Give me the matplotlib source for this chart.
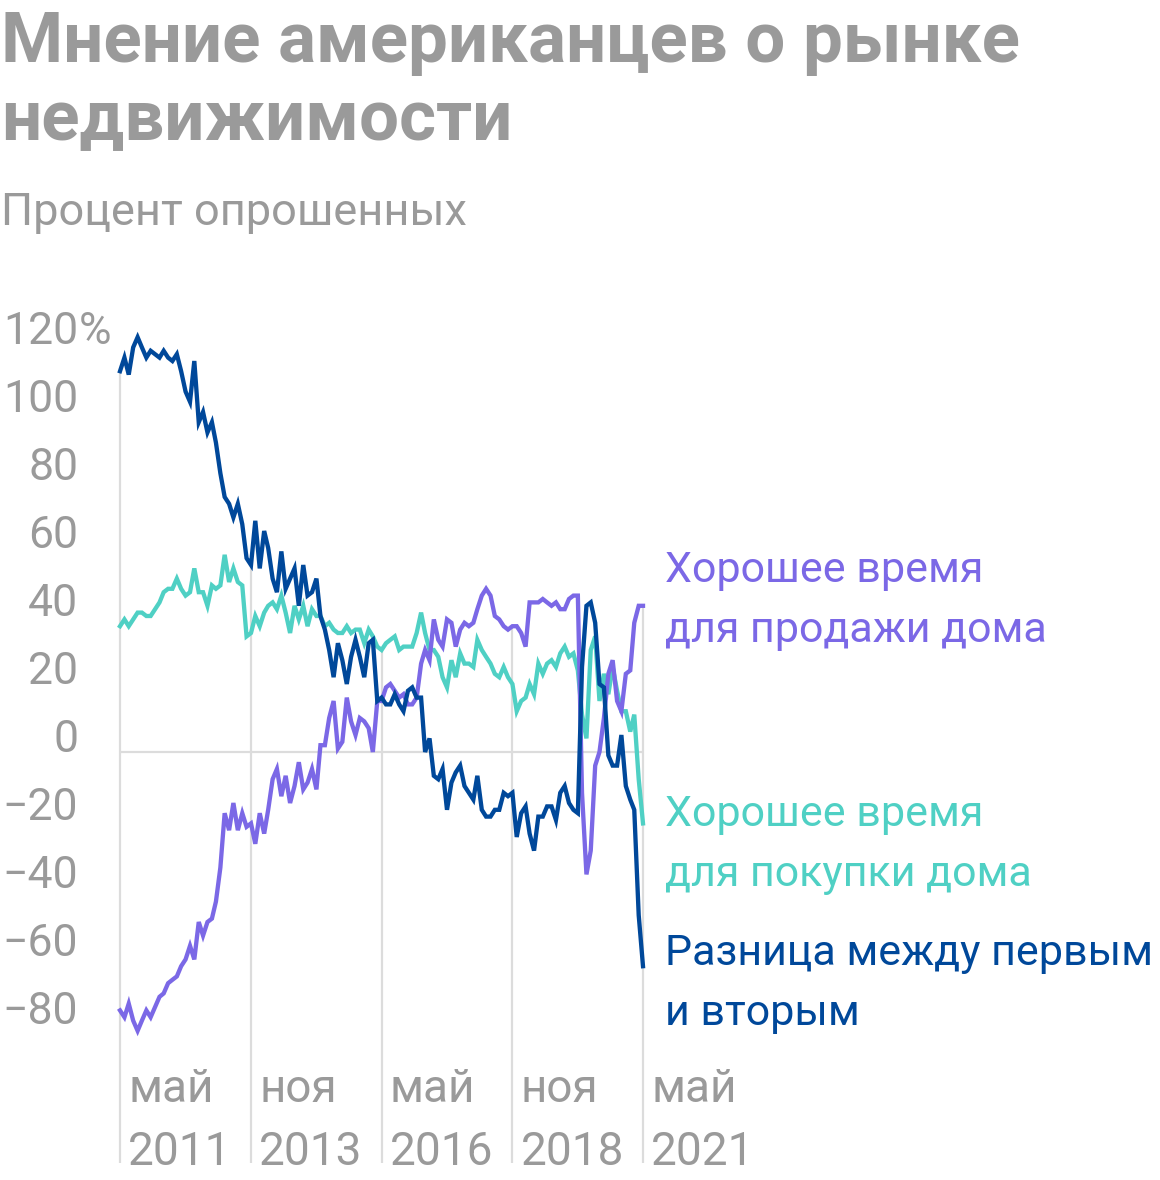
import numpy as np
import pandas as pd
import matplotlib
matplotlib.use("Agg")
import matplotlib.pyplot as plt
import matplotlib.dates as mdates

plt.rcParams["font.family"] = ["Roboto", "DejaVu Sans"]

# помесячно, май 2011 – май 2021
MONTHS = pd.date_range("2011-05-01", periods=121, freq="MS")

# хорошее время для продажи дома (нетто, %)
SELL = [-76, -78, -74, -79, -82, -79, -76, -78, -75, -72,
        -71, -68, -67, -66, -63, -61, -57, -61, -50, -54,
        -50, -49, -44, -34, -18, -23, -15, -23, -18, -22,
        -21, -27, -18, -24, -17, -8, -5, -13, -7, -15,
        -10, -3, -11, -9, -5, -11, 2, 2, 10, 15,
        1, 3, 16, 9, 5, 10, 9, 7, 0, 15,
        15, 19, 20, 18, 16, 17, 14, 14, 16, 26,
        30, 27, 39, 33, 31, 39, 38, 31, 36, 38,
        37, 38, 42, 46, 48, 46, 40, 39, 37, 36,
        37, 37, 35, 31, 44, 44, 44, 45, 44, 43,
        44, 42, 42, 45, 46, 46, -12, -36, -29, -4,
        0, 10, 23, 27, 15, 12, 23, 24, 38, 43,
        43]

# хорошее время для покупки дома (нетто, %)
BUY = [37, 39, 37, 39, 41, 41, 40, 40, 42, 44,
       47, 48, 48, 51, 48, 46, 47, 54, 47, 47,
       43, 49, 48, 49, 58, 50, 54, 50, 49, 34,
       35, 40, 37, 41, 43, 44, 42, 46, 41, 35,
       43, 39, 43, 37, 42, 40, 40, 37, 38, 36,
       35, 35, 37, 35, 36, 36, 32, 36, 34, 31,
       30, 32, 33, 34, 30, 31, 31, 31, 35, 41,
       35, 30, 30, 28, 22, 19, 27, 22, 29, 26,
       26, 25, 33, 30, 28, 26, 23, 22, 25, 22,
       20, 12, 15, 16, 20, 17, 26, 23, 26, 27,
       25, 29, 31, 28, 29, 24, 11, 4, 30, 34,
       15, 23, 17, 25, 18, 12, 12, 6, 11, -8,
       -21]

# разница между первым и вторым
DIFF = [112, 116, 111, 119, 122, 119, 116, 118, 117, 116,
        118, 116, 115, 117, 112, 106, 103, 115, 97, 100,
        94, 97, 91, 82, 75, 73, 69, 73, 67, 57,
        55, 68, 54, 65, 60, 51, 47, 59, 48, 51,
        54, 43, 55, 46, 47, 51, 40, 36, 30, 22,
        32, 27, 20, 28, 33, 28, 22, 32, 33, 15,
        16, 14, 14, 17, 14, 12, 18, 19, 16, 16,
        0, 4, -7, -8, -5, -17, -9, -6, -4, -10,
        -12, -14, -7, -17, -19, -19, -17, -17, -12, -13,
        -12, -25, -18, -16, -24, -29, -19, -19, -16, -16,
        -20, -12, -10, -15, -17, -18, 25, 43, 44, 38,
        20, 19, -1, -4, -4, 5, -10, -14, -17, -48,
        -63]

Y_TICKS = [120, 100, 80, 60, 40, 20, 0, -20, -40, -60, -80]
X_TICKS = ["2011-05-01", "2013-11-01", "2016-05-01", "2018-11-01", "2021-05-01"]
X_MONTHS = ["май", "ноя", "май", "ноя", "май"]
X_YEARS = ["2011", "2013", "2016", "2018", "2021"]

TITLE = ["Мнение американцев о рынке", "недвижимости"]
SUBTITLE = "Процент опрошенных"
LABELS = [("Хорошее время", "для продажи дома"),
          ("Хорошее время", "для покупки дома"),
          ("Разница между первым", "и вторым")]

PURPLE = "#7b68e6"
TEAL = "#4fd0c4"
NAVY = "#00489a"
GRAY = "#9a9a9a"
GRID = "#dcdcdc"


def main():
    fig = plt.figure(figsize=(11.6, 11.8), dpi=100)
    ax = fig.add_axes([0.10345, 0.10339, 0.45086, 0.61949])

    x = mdates.date2num(MONTHS)
    sell, buy, diff = np.array(SELL), np.array(BUY), np.array(DIFF)
    ax.set_xlim(x[0], x[-1])
    ax.set_ylim(-90, 125)

    # вертикальная сетка: от низа подписей до верхней линии в этой точке
    tick_x = mdates.date2num(pd.to_datetime(X_TICKS))
    idx = [int(np.argmin(np.abs(x - t))) for t in tick_x]
    tops = np.max(np.vstack([sell, buy, diff])[:, idx], axis=0)
    ax.vlines(tick_x, -121, tops, color=GRID, lw=1.6, zorder=1, clip_on=False)
    ax.axhline(0, color=GRID, lw=1.6, zorder=1)

    for vals, col in [(buy, TEAL), (sell, PURPLE), (diff, NAVY)]:
        ax.plot(x, vals, color=col, lw=3.1, solid_joinstyle="miter",
                zorder=3, clip_on=False)

    for s in ax.spines.values():
        s.set_visible(False)
    ax.set_xticks([])
    ax.set_yticks([])

    # подписи оси y
    for v in Y_TICKS:
        txt = str(v).replace("-", "\u2212")
        ax.annotate(txt, xy=(0, v), xycoords=("axes fraction", "data"),
                    xytext=(-30, 0), textcoords="offset points",
                    ha="right", va="baseline", fontsize=32, color=GRAY)
        if v == Y_TICKS[0]:
            ax.annotate("%", xy=(0, v), xycoords=("axes fraction", "data"),
                        xytext=(-30, 0), textcoords="offset points",
                        ha="left", va="baseline", fontsize=32, color=GRAY)

    # подписи оси x
    for t, mo, yr in zip(tick_x, X_MONTHS, X_YEARS):
        for s, dy in [(mo, -32), (yr, -77)]:
            ax.annotate(s, xy=(t, 0), xycoords=("data", "axes fraction"),
                        xytext=(6, dy), textcoords="offset points",
                        ha="left", va="baseline", fontsize=33, color=GRAY)

    # подписи линий справа
    for (l1, l2), col, y1, y2 in zip(LABELS, [PURPLE, TEAL, NAVY],
                                     [50, -21.8, -62.6], [32.4, -39.4, -80.3]):
        for s, yy in [(l1, y1), (l2, y2)]:
            ax.annotate(s, xy=(x[-1], yy), xycoords="data",
                        xytext=(16, 0), textcoords="offset points",
                        ha="left", va="baseline", fontsize=31, color=col,
                        annotation_clip=False)

    fig.text(0.001, 1 - 62 / 1180, TITLE[0], fontsize=51, fontweight="bold",
             color=GRAY, va="baseline")
    fig.text(0.001, 1 - 140 / 1180, TITLE[1], fontsize=51, fontweight="bold",
             color=GRAY, va="baseline")
    fig.text(0.001, 1 - 225 / 1180, SUBTITLE, fontsize=32.5, color=GRAY,
             va="baseline")

    fig.savefig("out.png", dpi=100, facecolor="white")


if __name__ == "__main__":
    main()
